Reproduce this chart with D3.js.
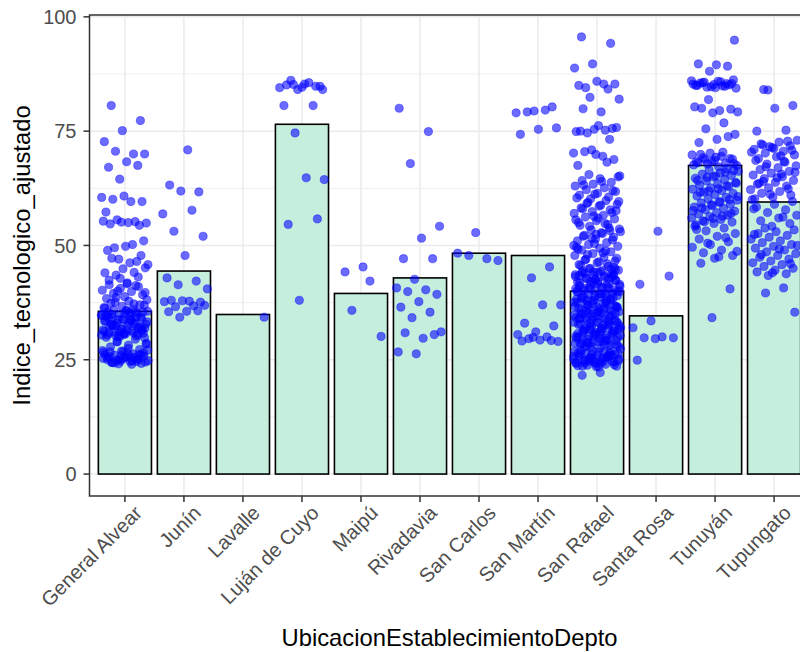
<!DOCTYPE html>
<html>
<head>
<meta charset="utf-8">
<script src="https://cdn.jsdelivr.net/npm/d3@7"></script>
<style>
  body { margin: 0; background: #fff; }
  svg { display: block; }
  text { font-family: "Liberation Sans", Arial, sans-serif; }
</style>
</head>
<body>
<div class="grafico"></div>
<script>
// categories and bar heights (mean per depto)
const deptos = ["General Alvear", "Junín", "Lavalle", "Luján de Cuyo", "Maipú", "Rivadavia",
  "San Carlos", "San Martín", "San Rafael", "Santa Rosa", "Tunuyán", "Tupungato"];
const medias = [35.6, 44.4, 34.9, 76.5, 39.5, 42.9, 48.3, 47.8, 40.0, 34.6, 67.5, 59.5];

// individual establishments (Indice_tecnologico_ajustado) per depto
const generalAlvear = [80.6, 77.3, 75.1, 72.7, 70.0, 70.6, 70.0, 68.3, 67.1, 67.5, 64.5, 60.5, 59.6, 60.1,
  59.6, 60.8, 57.3, 55.2, 55.6, 54.9, 55.0, 54.7, 54.4, 55.1, 55.3, 50.2, 49.5, 51.0, 49.8, 48.9,
  46.5, 47.0, 45.8, 46.2, 47.2, 47.8, 44.9, 44.0, 44.1, 43.5, 45.1, 41.8, 41.4, 41.0, 40.6, 40.2,
  39.9, 39.5, 39.2, 38.8, 38.4, 41.2, 40.0, 38.1, 37.8, 37.4, 37.0, 36.7, 36.4, 36.1, 37.6, 36.9,
  35.8, 35.5, 35.2, 35.0, 34.7, 34.5, 34.2, 34.0, 33.7, 33.5, 33.2, 33.0, 32.8, 32.5, 32.3, 32.0,
  31.8, 31.5, 31.3, 31.0, 30.8, 30.6, 30.4, 30.2, 30.0, 35.6, 35.3, 34.9, 34.4, 33.9, 33.4, 32.9,
  32.4, 31.9, 31.4, 30.9, 30.5, 30.1, 34.8, 33.6, 32.6, 31.6, 30.7, 29.9, 29.5, 29.0, 28.6, 28.2,
  27.8, 27.2, 26.9, 26.6, 26.3, 26.0, 25.8, 25.6, 25.4, 25.2, 25.0, 24.8, 24.6, 24.4, 24.2, 26.8,
  26.1, 25.5, 24.9, 24.5, 26.4, 25.7, 25.1, 24.7, 27.0, 24.0,
  35.9, 35.4, 35.1, 34.6, 34.3, 33.8, 33.3, 33.1, 32.7, 32.2, 31.7, 31.2, 30.9, 30.3, 29.8, 35.7,
  34.1, 32.1, 31.1, 30.4, 33.8, 32.4, 31.4, 30.6, 34.6, 35.4, 28.9, 28.4, 27.5, 26.7, 26.2, 25.9,
  25.3, 24.8, 24.3, 26.5, 25.5, 25.0, 24.6, 24.1, 27.1, 25.7, 24.4, 26.0, 25.2, 36.3, 37.2, 38.6,
  39.7, 41.6, 42.4, 43.1, 42.8];
const junin = [70.9, 63.2, 61.7, 61.9, 56.9, 57.7, 53.1, 52.0, 47.8, 42.9, 42.2, 41.4, 40.5, 37.8,
  38.0, 37.6, 37.9, 37.7, 36.8, 36.6, 36.9, 35.6, 35.5, 35.7, 34.3];
const lavalle = [34.3];
const lujan = [85.2, 84.1, 85.3, 85.1, 84.8, 84.1, 84.5, 85.6, 86.1, 84.8, 84.6, 80.6, 80.6, 74.6,
  64.4, 64.8, 54.6, 55.8, 38.0];
const maipu = [42.2, 35.8, 30.1, 45.3, 44.2];
const rivadavia = [80.0, 74.9, 67.9, 54.2, 51.6, 47.1, 47.1, 42.6, 40.7, 40.3, 39.9, 39.3, 37.7, 36.5,
  35.4, 34.2, 31.1, 29.7, 30.9, 30.5, 26.3, 26.7];
const sanCarlos = [52.8, 48.3, 47.1, 47.8, 46.7];
const sanMartin = [80.3, 79.4, 79.0, 79.6, 79.2, 75.7, 75.4, 74.3, 45.3, 42.9, 37.0, 37.0, 33.0, 32.4,
  31.1, 30.5, 30.0, 29.6, 29.0, 29.3, 29.1, 29.2, 29.9];
const sanRafael = [95.6, 94.2, 89.7, 88.8, 85.3, 84.5, 85.3, 85.9, 85.0, 84.2, 82.4, 82.0, 79.2, 79.9,
  75.6, 75.4, 74.9, 75.2, 74.6, 75.8, 76.2, 75.0, 73.2, 70.9, 70.2, 69.5, 70.5, 68.8, 69.9, 67.5,
  68.2, 65.5, 65.0, 64.6, 64.2, 63.8, 63.4, 63.0, 62.6, 62.2, 61.8, 61.4, 61.0, 60.6, 60.2, 65.2,
  64.0, 63.2, 62.0, 61.2, 60.4, 59.8, 59.4, 59.0, 58.6, 58.2, 57.8, 57.4, 57.0, 56.6, 56.2, 55.8,
  55.4, 55.0, 54.6, 54.2, 59.6, 58.8, 58.0, 57.2, 56.4, 55.6, 54.8, 59.2, 57.6, 56.0, 54.4, 53.8,
  53.4, 53.0, 52.6, 52.2, 51.8, 51.4, 51.0, 50.6, 50.2, 49.8, 49.4, 49.0, 48.6, 48.2, 47.8, 47.4,
  47.0, 46.6, 46.2, 45.8, 45.4, 45.0, 53.6, 52.8, 52.0, 51.2, 50.4, 49.6, 48.8, 48.0, 47.2, 46.4,
  45.6, 53.2, 51.6, 50.0, 48.4, 46.8, 45.2, 52.4, 49.2, 46.0,
  44.9, 44.6, 44.3, 44.0, 43.8, 43.5, 43.2, 43.0, 42.7, 42.4, 42.2, 41.9, 41.6, 41.4, 41.1, 40.8,
  40.6, 40.3, 40.0, 39.8, 39.5, 39.2, 39.0, 38.7, 38.4, 38.2, 37.9, 37.6, 37.4, 37.1, 36.8, 36.6,
  36.3, 36.0, 35.8, 35.5, 35.2, 35.0, 34.7, 34.4, 34.2, 33.9, 33.6, 33.4, 33.1, 32.8, 32.6, 32.3,
  32.0, 31.8, 31.5, 31.2, 31.0, 30.7, 30.4, 30.2, 29.9, 29.6, 29.4, 29.1, 28.8, 28.6, 28.3, 28.0,
  44.7, 44.1, 43.4, 42.8, 42.1, 41.5, 40.9, 40.2, 39.6, 38.9, 38.3, 37.7, 37.0, 36.4, 35.7, 35.1,
  34.5, 33.8, 33.2, 32.5, 31.9, 31.3, 30.6, 30.0, 29.3, 28.7, 27.9, 27.6, 44.4, 43.1, 41.8, 40.5,
  39.3, 38.0, 36.7, 35.4, 34.1, 32.9, 31.6, 30.3, 29.0, 27.7, 43.7, 42.5, 40.1, 37.8, 35.3, 33.0,
  30.8, 28.5, 27.2, 27.0, 26.8, 26.6, 26.4, 26.2, 26.0, 25.8, 25.6, 25.4, 25.2, 25.0, 24.8, 24.6,
  24.4, 24.2, 24.0, 23.8, 23.6, 23.4, 26.9, 26.5, 26.1, 25.7, 25.3, 24.9, 24.5, 24.1, 23.7, 25.5,
  24.7, 26.3, 22.2, 21.6,
  44.8, 44.2, 43.6, 43.3, 42.9, 42.3, 41.7, 41.2, 40.7, 40.4, 39.9, 39.4, 38.8, 38.5, 38.1, 37.5,
  37.2, 36.9, 36.5, 36.2, 35.9, 35.6, 35.0, 34.8, 34.3, 34.0, 33.7, 33.3, 32.7, 32.4, 32.1, 31.7,
  31.4, 31.1, 30.9, 30.5, 30.1, 29.8, 29.5, 29.2, 28.9, 28.4, 28.1, 27.8, 27.4, 44.5, 43.9, 43.3,
  42.6, 42.0, 41.3, 40.7, 40.0, 39.4, 38.6, 38.0, 37.3, 36.6, 36.1, 35.6, 35.0, 34.6, 34.0, 33.5,
  33.0, 32.4, 31.9, 31.3, 30.8, 30.2, 29.7, 29.2, 28.7, 28.2, 26.7, 26.2, 25.9, 25.4, 25.1, 24.6,
  24.3, 23.9, 23.5, 26.5, 25.8, 25.2, 24.8, 24.2, 23.6, 26.0, 25.0, 24.4];
const santaRosa = [53.1, 41.5, 43.3, 33.5, 32.0, 30.0, 29.8, 29.8, 29.6, 24.9];
const tunuyan = [94.9, 89.5, 89.7, 89.2, 88.1, 86.0, 85.8, 85.6, 85.4, 85.2, 85.0, 84.8, 84.6, 84.4,
  85.9, 85.5, 85.1, 84.7, 85.3, 84.9, 85.7, 86.2, 84.5, 85.0, 85.4, 81.9, 79.2, 79.5, 80.0, 79.8,
  79.0, 80.3, 76.8, 75.5, 74.3, 73.2, 72.5, 73.8, 70.2, 69.8, 69.5, 69.2, 68.9, 68.6, 68.3, 68.0,
  67.8, 67.5, 67.2, 69.9, 69.0, 68.4, 67.6, 70.4, 68.8, 67.9, 69.3, 68.1, 66.8, 66.5, 66.2, 65.9,
  65.6, 65.3, 65.0, 64.7, 64.4, 64.1, 63.8, 63.5, 63.2, 62.9, 62.6, 62.3, 62.0, 61.7, 61.4, 61.1,
  60.8, 60.5, 60.2, 59.9, 59.6, 59.3, 59.0, 58.7, 58.4, 58.1, 57.8, 57.5, 57.2, 56.9, 56.6, 56.3,
  56.0, 55.7, 55.4, 55.1, 54.8, 54.5, 66.0, 64.9, 63.6, 62.4, 61.6, 60.0, 58.9, 57.6, 56.4, 55.2,
  66.4, 65.2, 64.2, 63.0, 61.9, 60.7, 59.4, 58.2, 57.0, 55.9, 54.2, 53.8, 53.2, 52.6, 52.0, 51.4,
  50.8, 50.2, 49.6, 49.0, 48.4, 47.8, 47.2, 53.5, 51.7, 50.5, 48.7, 47.5, 46.1, 40.5, 34.2];
const tupungato = [84.1, 80.6, 80.0, 75.0, 75.2, 84.0, 73.0, 72.6, 72.2, 71.8, 71.4, 71.0, 70.6, 70.2,
  69.8, 69.4, 69.0, 72.8, 71.6, 70.4, 69.6, 72.0, 70.8, 71.2, 68.6, 68.2, 67.8, 67.4, 67.0, 66.6,
  66.2, 65.8, 65.4, 65.0, 64.6, 64.2, 63.8, 63.4, 63.0, 62.6, 62.2, 61.8, 61.4, 61.0, 60.6, 60.2,
  68.4, 67.2, 66.0, 64.8, 63.6, 62.4, 61.2, 60.0, 65.6, 64.0, 59.6, 59.0, 58.4, 57.8, 57.2, 56.6,
  56.0, 55.4, 54.8, 54.2, 58.0, 56.2, 53.8, 53.4, 53.0, 52.6, 52.2, 51.8, 51.4, 51.0, 50.6, 50.2,
  49.8, 49.4, 49.0, 48.6, 48.2, 47.8, 47.4, 47.0, 46.6, 46.2, 45.8, 45.4, 45.0, 44.6, 44.2, 43.8,
  43.4, 50.0, 49.2, 48.0, 46.0, 44.0, 52.4, 40.7, 39.6, 35.4];

const puntosPorDepto = [generalAlvear, junin, lavalle, lujan, maipu, rivadavia, sanCarlos,
  sanMartin, sanRafael, santaRosa, tunuyan, tupungato];
const yTicks = [0, 25, 50, 75, 100];

var margin = { top: 15, left: 89.5 },
  panelW = 720,
  panelH = 481,
  width = 800,
  height = 652;

let svg = d3.select(".grafico")
  .append("svg")
  .attr("width", width)
  .attr("height", height);

const x = d3.scalePoint()
  .domain(deptos)
  .range([margin.left, margin.left + panelW])
  .padding(0.6);
const step = x.step();

const y = d3.scaleLinear()
  .domain([-4.8, 100.4])
  .range([margin.top + panelH, margin.top]);

// grid (minor then major)
const minor = [12.5, 37.5, 62.5, 87.5];
svg.append("g").selectAll("line")
  .data(minor)
  .enter().append("line")
  .attr("x1", margin.left).attr("x2", margin.left + panelW)
  .attr("y1", d => y(d)).attr("y2", d => y(d))
  .attr("stroke", "#ebebeb").attr("stroke-width", 0.8);
svg.append("g").selectAll("line")
  .data(yTicks)
  .enter().append("line")
  .attr("x1", margin.left).attr("x2", margin.left + panelW)
  .attr("y1", d => y(d)).attr("y2", d => y(d))
  .attr("stroke", "#ebebeb").attr("stroke-width", 1.5);
svg.append("g").selectAll("line")
  .data(deptos)
  .enter().append("line")
  .attr("x1", d => x(d)).attr("x2", d => x(d))
  .attr("y1", margin.top).attr("y2", margin.top + panelH)
  .attr("stroke", "#ebebeb").attr("stroke-width", 1.5);

// bars
svg.append("g").selectAll("rect")
  .data(deptos)
  .enter().append("rect")
  .attr("x", d => x(d) - step * 0.45)
  .attr("width", step * 0.9)
  .attr("y", (d, i) => y(medias[i]))
  .attr("height", (d, i) => y(0) - y(medias[i]))
  .attr("fill", "#c6eedd")
  .attr("stroke", "#000")
  .attr("stroke-width", 1.6);

// jittered points (golden ratio sequence for the horizontal jitter)
let puntos = [];
puntosPorDepto.forEach((vals, c) => {
  vals.forEach((v, i) => {
    const u = (i * 0.6180339887 + c * 0.37 + 0.21) % 1;
    puntos.push({ depto: deptos[c], valor: v, j: (u - 0.5) * 0.8 });
  });
});

svg.append("g").selectAll("circle")
  .data(puntos)
  .enter().append("circle")
  .attr("cx", d => x(d.depto) + d.j * step)
  .attr("cy", d => y(d.valor))
  .attr("r", 4.1)
  .attr("fill", "blue")
  .attr("fill-opacity", 0.58)
  .attr("stroke", "blue")
  .attr("stroke-opacity", 0.45)
  .attr("stroke-width", 0.9);

// panel border
svg.append("rect")
  .attr("x", margin.left).attr("y", margin.top)
  .attr("width", panelW).attr("height", panelH)
  .attr("fill", "none")
  .attr("stroke", "#333333")
  .attr("stroke-width", 1.5);

// y axis
const yAxis = svg.append("g");
yAxis.selectAll("line")
  .data(yTicks)
  .enter().append("line")
  .attr("x1", margin.left - 6).attr("x2", margin.left)
  .attr("y1", d => y(d)).attr("y2", d => y(d))
  .attr("stroke", "#333333").attr("stroke-width", 1.5);
yAxis.selectAll("text")
  .data(yTicks)
  .enter().append("text")
  .attr("x", margin.left - 13)
  .attr("y", d => y(d))
  .attr("dy", "0.36em")
  .attr("text-anchor", "end")
  .attr("font-size", 20)
  .attr("fill", "#4d4d4d")
  .text(d => d);

// x axis
const xAxis = svg.append("g");
xAxis.selectAll("line")
  .data(deptos)
  .enter().append("line")
  .attr("x1", d => x(d)).attr("x2", d => x(d))
  .attr("y1", margin.top + panelH).attr("y2", margin.top + panelH + 6)
  .attr("stroke", "#333333").attr("stroke-width", 1.5);
xAxis.selectAll("text")
  .data(deptos)
  .enter().append("text")
  .attr("transform", d => "translate(" + (x(d) + 8) + "," + (margin.top + panelH + 8) + ") rotate(-45)")
  .attr("dy", "0.72em")
  .attr("text-anchor", "end")
  .attr("font-size", 20)
  .attr("fill", "#4d4d4d")
  .text(d => d);

// axis titles
svg.append("text")
  .attr("x", margin.left + panelW / 2)
  .attr("y", 645.5)
  .attr("text-anchor", "middle")
  .attr("font-size", 23.8)
  .attr("fill", "#000")
  .text("UbicacionEstablecimientoDepto");

svg.append("text")
  .attr("transform", "translate(30," + (margin.top + panelH / 2) + ") rotate(-90)")
  .attr("text-anchor", "middle")
  .attr("font-size", 23.8)
  .attr("fill", "#000")
  .text("Indice_tecnologico_ajustado");
</script>
</body>
</html>
